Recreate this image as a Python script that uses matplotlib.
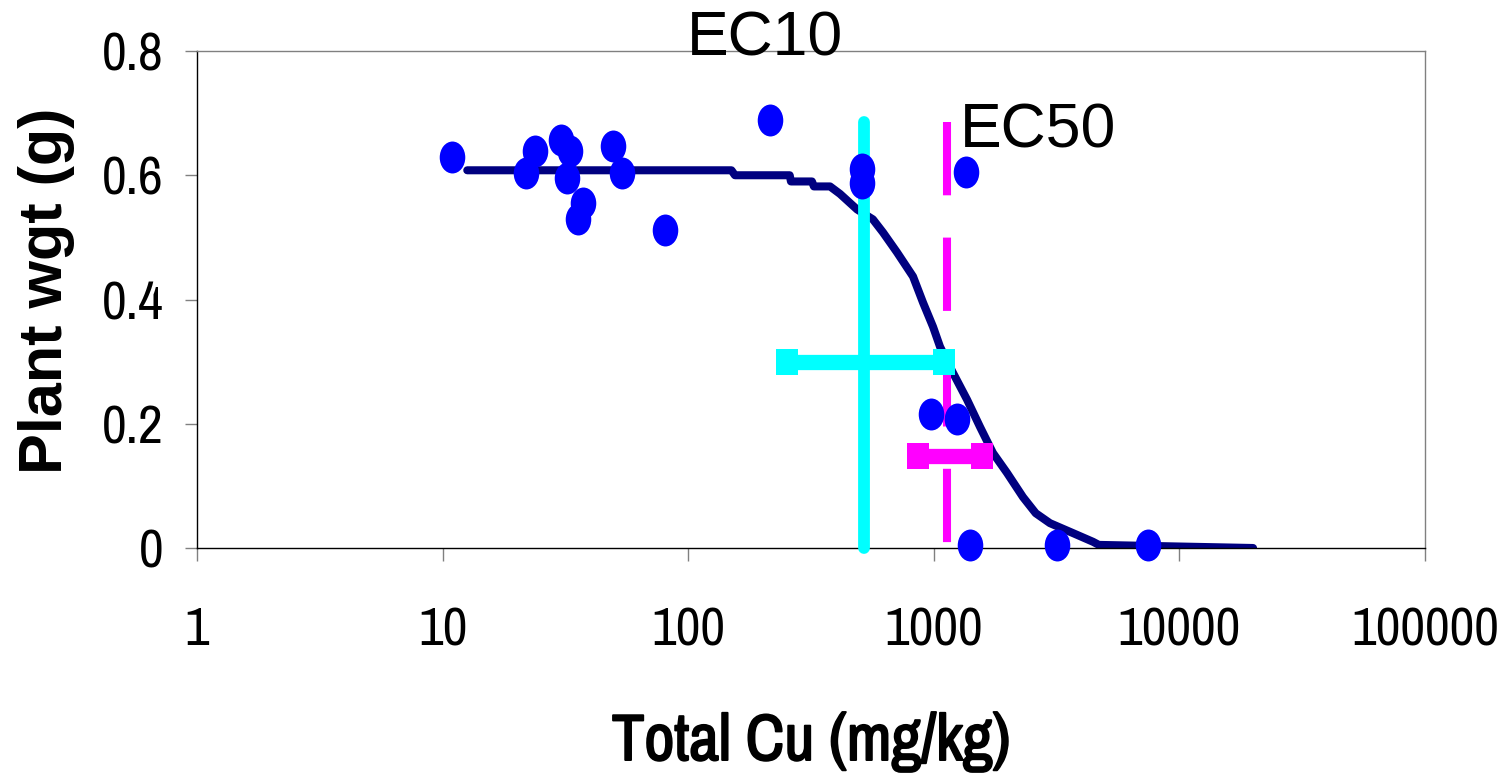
import numpy as np
import matplotlib
matplotlib.use('Agg')
import matplotlib.pyplot as plt
import matplotlib.patheffects as pe
from matplotlib.path import Path
from matplotlib import font_manager

plt.rcParams['font.family'] = ['Liberation Sans', 'DejaVu Sans']

# observed data (total Cu mg/kg, plant weight g)
cu_obs = [10.9, 23.8, 21.9, 30.3, 33.0, 32.2, 37.2, 35.7, 49.3, 53.6, 80.5,
          215, 509, 509, 1352, 971, 1239, 1403, 3163, 7466]
wgt_obs = [0.630, 0.639, 0.604, 0.657, 0.639, 0.596, 0.555, 0.529, 0.647, 0.604, 0.512,
           0.689, 0.610, 0.588, 0.605, 0.216, 0.208, 0.005, 0.005, 0.005]

# fitted curve
cu_fit = [12.6, 150, 155, 259, 262, 319, 325, 378, 415, 487, 565, 621, 708, 823,
          904, 993, 1060, 1197, 1365, 1542, 1741, 1986, 2307, 2600, 2971, 3687,
          4448, 4700, 19950]
wgt_fit = [0.608, 0.608, 0.600, 0.600, 0.590, 0.590, 0.582, 0.582, 0.570, 0.545,
           0.529, 0.508, 0.476, 0.437, 0.395, 0.356, 0.324, 0.282, 0.239, 0.195,
           0.153, 0.121, 0.082, 0.056, 0.040, 0.024, 0.010, 0.005, 0.0]

# EC10 / EC50 with confidence ranges
ec10 = 518
ec10_lo, ec10_hi = 252, 1100
ec10_bar_y = 0.30
ec50 = 1127
ec50_lo, ec50_hi = 863, 1572
ec50_bar_y = 0.148
ec_top = 0.685

xticks = [1, 10, 100, 1000, 10000, 100000]
yticks = [0, 0.2, 0.4, 0.6, 0.8]

# pick a narrow face for the x label / tick numbers if one is around
installed = set(f.name for f in font_manager.fontManager.ttflist)
narrow = 'Liberation Sans'
for cand in ['Liberation Sans Narrow', 'Arial Narrow', 'Arimo Narrow', 'Archivo Narrow',
             'Roboto Condensed', 'PT Sans Narrow']:
    if cand in installed:
        narrow = cand
        break
is_narrow = narrow != 'Liberation Sans'

circ = Path.unit_circle()
ellipse = Path(circ.vertices * np.array([0.8, 1.0]), circ.codes)
capbox = Path([(-0.41, -0.5), (0.41, -0.5), (0.41, 0.5), (-0.41, 0.5), (-0.41, -0.5)],
              [Path.MOVETO, Path.LINETO, Path.LINETO, Path.LINETO, Path.CLOSEPOLY])

fig = plt.figure(figsize=(15.08, 7.77), dpi=100)
ax = fig.add_axes([197/1508, 1 - 548/777, (1425-197)/1508, (548-51)/777])

ax.plot(cu_fit, wgt_fit, color='#000080', lw=5.8, solid_capstyle='round',
        solid_joinstyle='round', zorder=2)

# EC50 (magenta)
ax.plot([ec50, ec50], [ec_top, 0.008], color='#ff00ff', lw=5.8,
        dashes=(9.1, 5.25), dash_capstyle='butt', zorder=3)
ax.plot([ec50_lo, ec50_hi], [ec50_bar_y, ec50_bar_y], color='#ff00ff', lw=11,
        marker=capbox, markersize=19.4, markeredgewidth=0, zorder=3)

# EC10 (cyan)
ax.plot([ec10, ec10], [0.0, ec_top], color='#00ffff', lw=8.5,
        solid_capstyle='round', zorder=4, clip_on=False)
ax.plot([ec10_lo, ec10_hi], [ec10_bar_y, ec10_bar_y], color='#00ffff', lw=11,
        marker=capbox, markersize=19.4, markeredgewidth=0, zorder=4)

ax.plot(cu_obs, wgt_obs, linestyle='none', marker=ellipse, markersize=23,
        color='#0000ff', markeredgewidth=0, zorder=5, clip_on=False)

ax.text(205, 0.792, 'EC10', fontsize=45, ha='center', va='baseline', zorder=6)
ax.text(2650, 0.645, 'EC50', fontsize=45, ha='center', va='baseline', zorder=6)

ax.set_xscale('log')
ax.set_xlim(1, 100000)
ax.set_ylim(0, 0.8)
ax.set_xticks(xticks)
ax.set_xticklabels([str(t) for t in xticks])
ax.xaxis.set_minor_locator(matplotlib.ticker.NullLocator())
ax.set_yticks(yticks)
ax.set_yticklabels(['0' if t == 0 else f'{t:.1f}' for t in yticks])
tick_size = 39 if is_narrow else 34
ax.tick_params(axis='both', labelsize=tick_size, length=9, width=1, color='#808080')
ax.tick_params(axis='x', pad=33)
ax.tick_params(axis='y', pad=15)
for lab in ax.get_xticklabels() + ax.get_yticklabels():
    lab.set_family([narrow, 'DejaVu Sans'])

for s in ['top', 'right']:
    ax.spines[s].set_linewidth(1)
    ax.spines[s].set_color('#808080')
for s in ['left', 'bottom']:
    ax.spines[s].set_linewidth(1)
    ax.spines[s].set_color('#000000')

if is_narrow:
    # narrow face has no bold, so thicken the strokes a little
    xl = ax.set_xlabel('Total Cu (mg/kg)', fontsize=47, family=[narrow, 'DejaVu Sans'])
    xl.set_path_effects([pe.withStroke(linewidth=1.4, foreground='black')])
else:
    ax.set_xlabel('Total Cu (mg/kg)', fontsize=40, fontweight='bold')
ax.xaxis.set_label_coords(0.5, -0.33)
ax.set_ylabel('Plant wgt (g)', fontsize=44, fontweight='bold')
ax.yaxis.set_label_coords(-0.099, 0.518)

fig.savefig('out.png', dpi=100)
